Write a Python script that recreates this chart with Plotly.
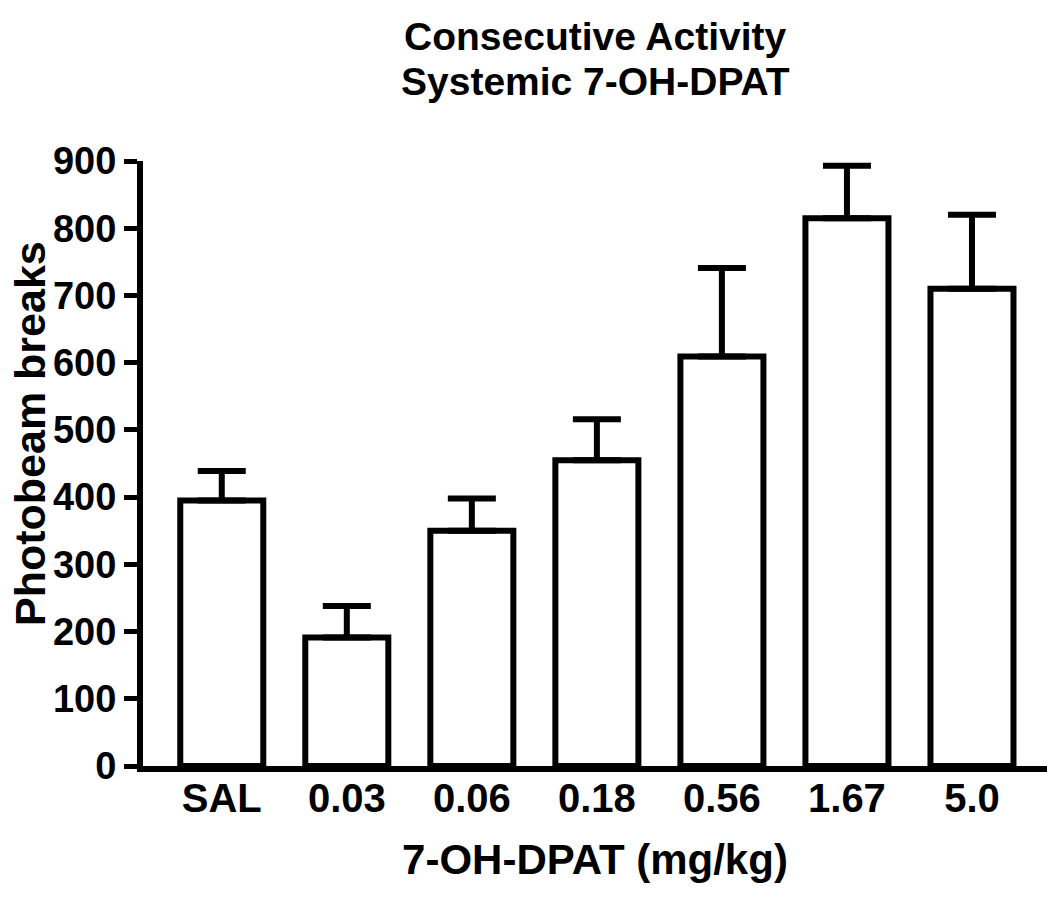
import plotly.graph_objects as go

categories = ["SAL", "0.03", "0.06", "0.18", "0.56", "1.67", "5.0"]
means = [395, 191, 350, 455, 609, 815, 710]
sems = [44, 47, 48, 61, 132, 78, 110]
y_ticks = [0, 100, 200, 300, 400, 500, 600, 700, 800, 900]

title_line1 = "Consecutive Activity"
title_line2 = "Systemic 7-OH-DPAT"
x_title = "7-OH-DPAT (mg/kg)"
y_title = "Photobeam breaks"

FONT = "Liberation Sans, Arial, sans-serif"

W, H = 1047, 897
L, R, T, B = 143, 0, 161, 131
plot_h = H - T - B
plot_w = W - L - R

def py(pix):
    return (H - B - pix) / plot_h

def px(pix):
    return (pix - L) / plot_w

fig = go.Figure()
fig.add_trace(go.Bar(
    x=list(range(len(categories))),
    y=means,
    width=0.664,
    marker=dict(color="white", line=dict(color="black", width=6)),
    error_y=dict(type="data", symmetric=False, array=sems,
                 arrayminus=[0] * len(sems),
                 color="black", thickness=6, width=24),
    showlegend=False,
))

fig.update_layout(
    width=W, height=H,
    margin=dict(l=L, r=R, t=T, b=B, pad=0),
    paper_bgcolor="white", plot_bgcolor="white",
    font=dict(family=FONT, color="black", weight="bold"),
    xaxis=dict(
        range=[-0.63, 6.60],
        tickmode="array",
        tickvals=list(range(len(categories))),
        ticktext=categories,
        tickfont=dict(size=40, family=FONT, weight="bold"),
        ticks="", ticklabelstandoff=-8,
        showline=True, linecolor="black", linewidth=6,
        showgrid=False, zeroline=False,
        title=dict(text=x_title, font=dict(size=42, family=FONT, weight="bold"),
                   standoff=28),
    ),
    yaxis=dict(
        range=[0, 900],
        tickmode="array",
        tickvals=y_ticks,
        ticktext=[str(v) for v in y_ticks],
        tickfont=dict(size=38, family=FONT, weight="bold"),
        ticks="outside", ticklen=13, tickwidth=5, tickcolor="black",
        showline=True, linecolor="black", linewidth=6,
        showgrid=False, zeroline=False,
    ),
    annotations=[
        dict(text=title_line1, xref="paper", yref="paper", x=0.5, y=py(36),
             xanchor="center", yanchor="middle", showarrow=False,
             font=dict(size=39, family=FONT, weight="bold")),
        dict(text=title_line2, xref="paper", yref="paper", x=0.5, y=py(81),
             xanchor="center", yanchor="middle", showarrow=False,
             font=dict(size=39, family=FONT, weight="bold")),
        dict(text=y_title, xref="paper", yref="paper", x=px(30), y=py(434),
             xanchor="center", yanchor="middle", showarrow=False, textangle=-90,
             font=dict(size=43, family=FONT, weight="bold")),
    ],
)

fig.write_html("out.html")
